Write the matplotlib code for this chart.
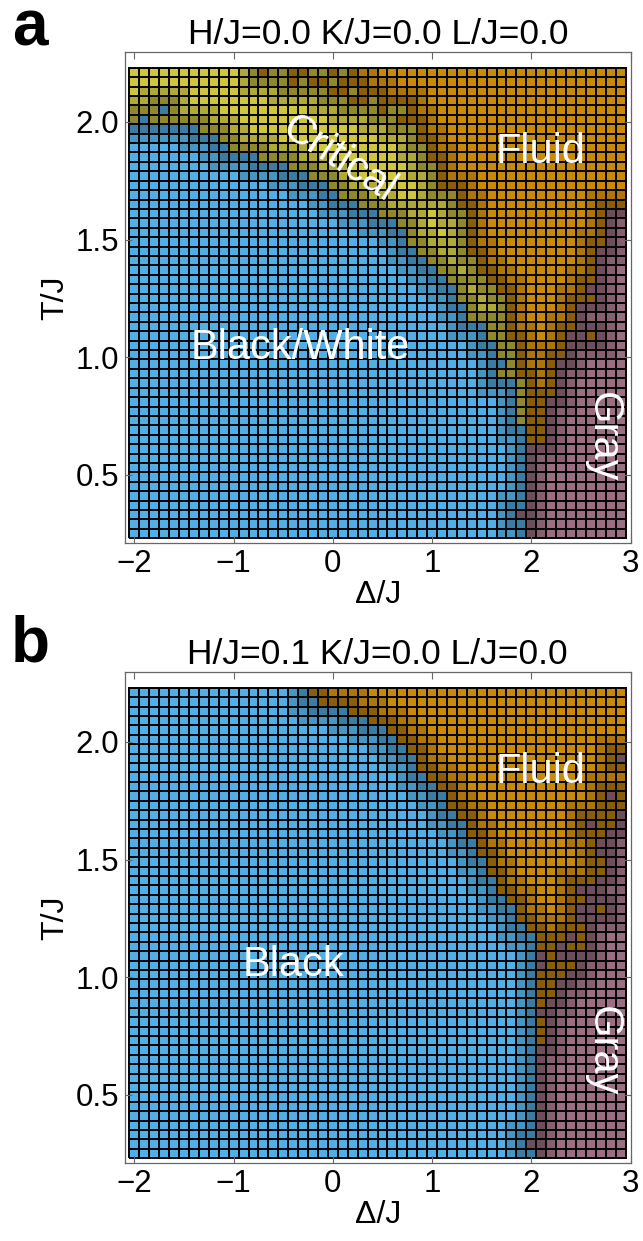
import numpy as np
import matplotlib.pyplot as plt
from matplotlib.colors import ListedColormap

plt.rcParams['font.family'] = ['Liberation Sans', 'DejaVu Sans']

# grid of the simulation (cell centres)
delta_vals = np.round(np.arange(-2.0, 2.95, 0.1), 2)   # 50 columns, Delta/J
temp_vals = np.round(np.arange(0.25, 2.22, 0.04), 2)   # 50 rows, T/J

phases = ['B', 'Y', 'O', 'P']  # blue (ordered), yellow (critical), orange (fluid), pink (gray)

# panel a: per row (bottom -> top) index where each phase ends
a_blue_end = [40, 40, 40, 40, 40, 40, 40, 40, 40, 40,
              40, 40, 39, 39, 39, 39, 39, 37, 38, 37,
              37, 36, 36, 34, 34, 33, 33, 32, 31, 30,
              29, 28, 28, 27, 25, 23, 21, 20, 18, 16,
              13, 10, 9, 7, 0, 0, 0, 0, 0, 0]
a_yellow_end = [40, 40, 40, 40, 40, 40, 40, 40, 40, 40,
                40, 40, 40, 40, 40, 40, 40, 39, 39, 39,
                39, 38, 38, 38, 38, 38, 37, 36, 35, 35,
                34, 34, 34, 34, 34, 33, 33, 31, 31, 31,
                30, 30, 29, 29, 27, 25, 22, 20, 18, 16]
a_orange_end = [40, 40, 40, 40, 40, 40, 40, 40, 40, 40,
                42, 42, 42, 42, 42, 43, 43, 43, 43, 44,
                45, 44, 45, 45, 45, 47, 46, 47, 47, 47,
                47, 48, 48, 48, 48, 50, 50, 50, 50, 50,
                50, 50, 50, 50, 50, 50, 50, 50, 50, 50]
a_extra = [(44, 1, 'B'), (45, 3, 'B'), (49, 13, 'O'), (49, 18, 'Y'), (49, 19, 'Y'),
           (49, 21, 'Y'), (48, 16, 'O'), (48, 20, 'Y'), (47, 22, 'Y'), (46, 24, 'Y'),
           (45, 26, 'Y'), (45, 27, 'Y'), (21, 46, 'O'), (20, 44, 'P'), (2, 39, 'P')]

# panel b
b_blue_end = [41, 41, 41, 41, 41, 41, 41, 41, 41, 41,
              41, 41, 41, 41, 41, 41, 41, 41, 41, 41,
              41, 41, 41, 41, 40, 39, 39, 38, 37, 37,
              36, 36, 35, 35, 34, 34, 33, 32, 32, 31,
              30, 29, 29, 28, 27, 26, 24, 22, 19, 18]
b_orange_end = [41, 41, 41, 41, 41, 41, 41, 41, 41, 41,
                41, 41, 42, 42, 42, 41, 42, 43, 43, 44,
                45, 43, 43, 44, 46, 45, 45, 46, 46, 47,
                48, 48, 47, 47, 48, 49, 49, 50, 50, 50,
                50, 50, 49, 50, 50, 50, 50, 50, 50, 50]
b_extra = [(1, 40, 'P'), (20, 41, 'P'), (21, 41, 'P'), (22, 44, 'O'), (22, 45, 'O'),
           (23, 45, 'O'), (26, 47, 'O'), (35, 46, 'P'), (38, 48, 'P'), (33, 49, 'P'),
           (28, 45, 'P')]

# normal / mid / dark shade for each phase
shades = ['#50AFE6', '#4696C4', '#3B7CA2',
          '#CFC63C', '#B0A935', '#8F892C',
          '#C98A06', '#AD7607', '#8A5E08',
          '#9B6E82', '#87606F', '#6F4E5C']
cmap = ListedColormap(shades)


def build_grid(blue_end, yellow_end, orange_end, extra):
    grid = np.full((50, 50), 3)
    for i in range(50):
        grid[i, :blue_end[i]] = 0
        grid[i, blue_end[i]:yellow_end[i]] = 1
        grid[i, yellow_end[i]:orange_end[i]] = 2
    for i, j, p in extra:
        grid[i, j] = phases.index(p)
    # darker shade for cells close to another phase
    level = np.zeros_like(grid)
    for i in range(50):
        for j in range(50):
            near1 = grid[max(i-1, 0):i+2, max(j-1, 0):j+2]
            near2 = grid[max(i-2, 0):i+3, max(j-2, 0):j+3]
            if (near1 != grid[i, j]).any():
                level[i, j] = 2
            elif (near2 != grid[i, j]).any():
                level[i, j] = 1
    return grid * 3 + level


grid_a = build_grid(a_blue_end, a_yellow_end, a_orange_end, a_extra)
grid_b = build_grid(b_blue_end, b_blue_end, b_orange_end, b_extra)

x_edges = np.append(delta_vals - 0.05, delta_vals[-1] + 0.05)
y_edges = np.append(temp_vals - 0.02, temp_vals[-1] + 0.02)

fig = plt.figure(figsize=(6.43, 12.41), dpi=100)
ax_a = fig.add_axes([125/643, 1-543/1241, 505.5/643, 491/1241])
ax_b = fig.add_axes([125/643, 1-1163/1241, 505.5/643, 491/1241])

titles = ['H/J=0.0 K/J=0.0 L/J=0.0', 'H/J=0.1 K/J=0.0 L/J=0.0']
for ax, grid, title in [(ax_a, grid_a, titles[0]), (ax_b, grid_b, titles[1])]:
    ax.pcolormesh(x_edges, y_edges, grid, cmap=cmap, vmin=-0.5, vmax=11.5,
                  edgecolors='#050505', linewidth=1.3)
    ax.set_xlim(-2.095, 3.0)
    ax.set_ylim(0.21, 2.297)
    ax.set_xticks([-2, -1, 0, 1, 2, 3])
    ax.set_xticklabels(['\u22122', '\u22121', '0', '1', '2', '3'])
    ax.set_yticks([0.5, 1.0, 1.5, 2.0])
    ax.tick_params(direction='in', length=5, width=0.8, color='#666666',
                   top=True, right=True, labelsize=22.5, pad=4)
    for s in ax.spines.values():
        s.set_color('#666666')
        s.set_linewidth(0.9)
    ax.set_xlabel('\u0394/J', fontsize=23, labelpad=1)
    ax.set_ylabel('T/J', fontsize=23, labelpad=4)
    ax.set_title(title, fontsize=25.5, pad=6)

txt = dict(color='white', fontsize=30, ha='center', va='center')
ax_a.text(0.06, 1.84, 'Critical', rotation=-33, **txt)
ax_a.text(2.09, 1.87, 'Fluid', **txt)
ax_a.text(-0.33, 1.04, 'Black/White', **txt)
ax_a.text(2.72, 0.66, 'Gray', rotation=-90, **txt)
ax_b.text(2.09, 1.87, 'Fluid', **txt)
ax_b.text(-0.40, 1.05, 'Black', **txt)
ax_b.text(2.72, 0.685, 'Gray', rotation=-90, **txt)

fig.text(30/643, 1-28/1241, 'a', fontsize=46, fontweight='bold', ha='center', va='center')
fig.text(30/643, 1-645/1241, 'b', fontsize=46, fontweight='bold', ha='center', va='center')

fig.savefig('out.png', dpi=100)
